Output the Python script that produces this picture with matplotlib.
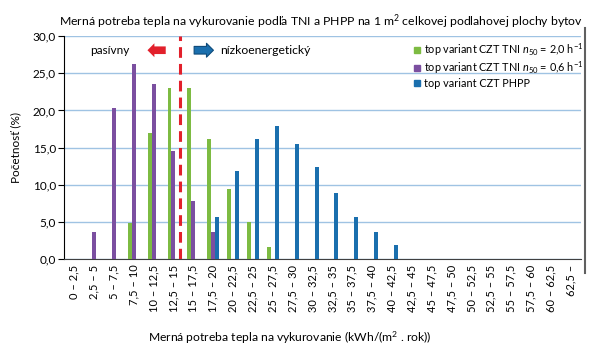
import numpy as np
import matplotlib.pyplot as plt
from matplotlib.lines import Line2D

plt.rcParams['font.family'] = ['Lato', 'DejaVu Sans']
plt.rcParams['mathtext.fontset'] = 'custom'
plt.rcParams['mathtext.rm'] = 'Lato'
plt.rcParams['mathtext.it'] = 'Lato:italic'

categories = ["0 – 2,5", "2,5 – 5", "5 – 7,5", "7,5 – 10", "10 – 12,5", "12,5 – 15",
              "15 – 17,5", "17,5 – 20", "20 – 22,5", "22,5 – 25", "25 – 27,5",
              "27,5 – 30", "30 – 32,5", "32,5 – 35", "35 – 37,5", "37,5 – 40",
              "40 – 42,5", "42,5 – 45", "45 – 47,5", "47,5 – 50", "50 – 52,5",
              "52,5 – 55", "55 – 57,5", "57,5 – 60", "60 – 62,5", "62,5 –"]
tni_20 = [0, 0, 0, 4.8, 17.0, 23.0, 23.0, 16.2, 9.5, 5.0, 1.6,
          0, 0, 0, 0, 0, 0, 0, 0, 0, 0, 0, 0, 0, 0, 0]
tni_06 = [0, 3.6, 20.3, 26.3, 23.6, 14.6, 7.8, 3.6, 0, 0, 0,
          0, 0, 0, 0, 0, 0, 0, 0, 0, 0, 0, 0, 0, 0, 0]
phpp = [0, 0, 0, 0, 0, 0, 0, 5.7, 11.8, 16.2, 17.9,
        15.5, 12.4, 8.9, 5.6, 3.6, 1.9, 0, 0, 0, 0, 0, 0, 0, 0, 0]
yticks = [0, 5, 10, 15, 20, 25, 30]

green = '#7dbb42'
purple = '#7b4fa0'
blue = '#1a6fae'

fig = plt.figure(figsize=(6, 3.54), dpi=100)
ax = fig.add_axes([0.107, 0.268, 0.861, 0.630])

x = np.arange(len(categories))
w = 0.2
ax.bar(x - w, tni_20, w, color=green, zorder=3)
ax.bar(x, tni_06, w, color=purple, zorder=3)
ax.bar(x + w, phpp, w, color=blue, zorder=3)

ax.set_xlim(-0.5, len(categories) - 0.5)
ax.set_ylim(0, 30)
ax.set_yticks(yticks)
ax.set_yticklabels([f"{v:.1f}".replace('.', ',') for v in yticks], fontsize=8.5)
ax.set_xticks(x)
ax.set_xticklabels(categories, rotation=90, fontsize=8)
ax.tick_params(axis='x', length=0, pad=4)
ax.tick_params(axis='y', length=4, direction='out', pad=2)
ax.yaxis.grid(True, color='#9fc3e3', linewidth=1, zorder=0)
ax.spines['top'].set_visible(False)
ax.spines['right'].set_visible(False)
ax.spines['bottom'].set_color('#404040')
ax.spines['left'].set_color('black')

ax.axvline(5.35, color='#e2202b', linewidth=2.2, linestyle=(0, (3.5, 2)), zorder=4)

ax.annotate('', xy=(3.55, 28.1), xytext=(4.75, 28.1),
            arrowprops=dict(arrowstyle='simple,head_length=0.5,head_width=1.0,tail_width=0.55',
                            color='#e2202b', lw=0))
ax.annotate('', xy=(7.15, 28.1), xytext=(5.9, 28.1),
            arrowprops=dict(arrowstyle='simple,head_length=0.5,head_width=1.0,tail_width=0.55',
                            fc='#1a6fae', ec='#0d4a7a', lw=0.8))
ax.text(0.8, 28.1, 'pasívny', fontsize=8.5, va='center', ha='left')
ax.text(7.35, 28.1, 'nízkoenergetický', fontsize=8.7, va='center', ha='left')

handles = [Line2D([], [], marker='s', linestyle='', color=green, markersize=4),
           Line2D([], [], marker='s', linestyle='', color=purple, markersize=4),
           Line2D([], [], marker='s', linestyle='', color=blue, markersize=4)]
labels = ['top variant CZT TNI $n_{50}$ = 2,0 h$^{-1}$',
          'top variant CZT TNI $n_{50}$ = 0,6 h$^{-1}$',
          'top variant CZT PHPP']
ax.legend(handles, labels, loc='upper left', bbox_to_anchor=(0.66, 1.01),
          frameon=False, fontsize=7.8, handletextpad=0.2, labelspacing=0.15,
          handlelength=0.8, borderaxespad=0.3)

ax.set_ylabel('Početnosť (%)', fontsize=8.5, labelpad=8)
fig.text(0.483, 0.045, 'Merná potreba tepla na vykurovanie (kWh/(m$^2$ . rok))',
         ha='center', va='center', fontsize=8.7)
fig.suptitle('Merná potreba tepla na vykurovanie podľa TNI a PHPP na 1 m$^2$ celkovej podlahovej plochy bytov',
             x=0.535, y=0.965, fontsize=8.8)

fig.add_artist(Line2D([0.975, 0.975], [0.228, 0.92], transform=fig.transFigure,
                      color='#606060', linewidth=1.5))

fig.savefig('out.png', dpi=100)
